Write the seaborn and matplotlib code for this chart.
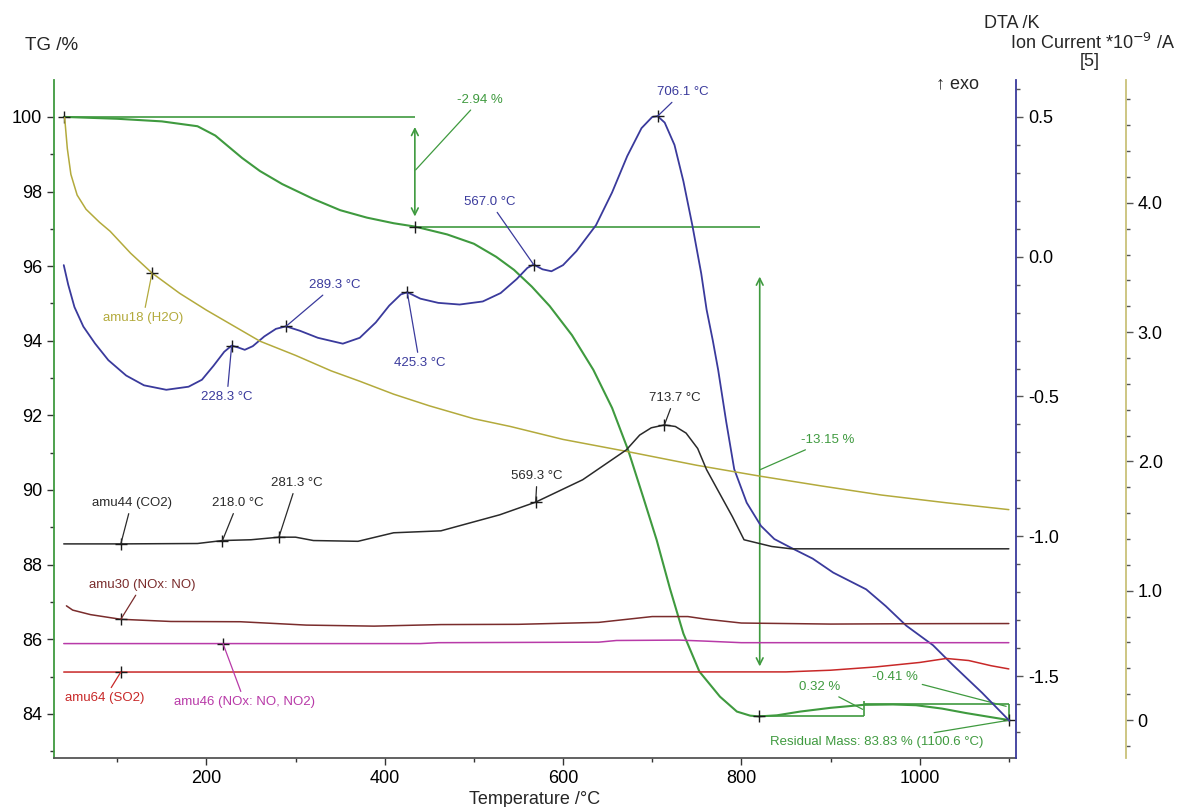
import numpy as np
import pandas as pd
import matplotlib
matplotlib.use('Agg')
import matplotlib.pyplot as plt
from matplotlib.ticker import MultipleLocator, FixedLocator, FuncFormatter
import seaborn as sns

sns.set_theme(style='white')
plt.rcParams['font.family'] = ['Liberation Sans', 'DejaVu Sans']

# colours of the instrument software
GREEN = '#3f9a3f'
NAVY = '#3a3a9c'
OLIVE = '#b3aa3c'
BLACK = '#2a2a2a'
BROWN = '#7a2c2c'
MAGENTA = '#b83aa8'
RED = '#c82828'
NOTE_FS = 9.5
TICK_FS = 13

# TG curve (mass %)
tg_T = [40, 100, 150, 190, 210, 225, 240, 260, 285, 320, 350, 380, 410, 434, 470, 500,
        525, 545, 565, 585, 610, 634, 655, 673, 690, 705, 720, 735, 753, 776, 795, 810,
        820, 840, 866, 900, 937, 970, 996, 1025, 1052, 1080, 1100.6]
tg_val = [100.0, 99.95, 99.88, 99.75, 99.5, 99.2, 98.9, 98.55, 98.2, 97.8, 97.5, 97.3,
          97.15, 97.06, 96.85, 96.6, 96.25, 95.9, 95.45, 94.93, 94.15, 93.22, 92.2, 91.07,
          89.8, 88.66, 87.35, 86.15, 85.13, 84.46, 84.06, 83.95, 83.93, 83.96, 84.06, 84.16,
          84.24, 84.25, 84.23, 84.14, 84.02, 83.91, 83.83]

# DTA curve (K)
dta_T = [40, 45, 52, 62, 75, 90, 110, 130, 155, 180, 195, 208, 220, 228.3, 236, 243, 252,
         265, 278, 289.3, 305, 325, 353, 372, 390, 405, 418, 425.3, 440, 460, 484, 510, 530,
         548, 560, 567, 577, 587, 600, 615, 637, 655, 672, 688, 700, 706.1, 714, 725, 735,
         745, 755, 761, 768, 774, 783, 792, 806, 822, 837, 855, 880, 903, 940, 962, 985,
         1015, 1037, 1070, 1100.6]
dta_val = [-0.03, -0.10, -0.18, -0.25, -0.31, -0.37, -0.425, -0.46, -0.476, -0.465, -0.44,
           -0.39, -0.34, -0.318, -0.325, -0.333, -0.32, -0.285, -0.258, -0.249, -0.265, -0.29,
           -0.311, -0.29, -0.235, -0.175, -0.135, -0.127, -0.15, -0.165, -0.171, -0.16, -0.13,
           -0.08, -0.04, -0.028, -0.045, -0.052, -0.03, 0.02, 0.113, 0.23, 0.36, 0.46, 0.50,
           0.503, 0.48, 0.40, 0.27, 0.113, -0.06, -0.189, -0.30, -0.405, -0.59, -0.76, -0.88,
           -0.963, -1.01, -1.04, -1.08, -1.13, -1.19, -1.25, -1.32, -1.39, -1.46, -1.56, -1.66]

# ion currents
h2o_T = [41, 44, 48, 55, 65, 80, 92, 115, 139, 170, 200, 230, 260, 300, 340, 372, 410, 450,
         500, 541, 600, 673, 750, 820, 890, 957, 1030, 1100]
h2o_val = [4.66, 4.42, 4.22, 4.06, 3.95, 3.85, 3.78, 3.61, 3.457, 3.30, 3.17, 3.05, 2.93,
           2.82, 2.70, 2.62, 2.52, 2.43, 2.33, 2.27, 2.17, 2.075, 1.97, 1.887, 1.81, 1.74,
           1.68, 1.627]

co2_T = [40, 104, 190, 218, 250, 281.3, 300, 320, 370, 410, 463, 529, 569.3, 622, 671, 686,
         699, 713.7, 726, 738, 751, 761, 775, 790, 803, 834, 856, 1100]
co2_val = [1.362, 1.362, 1.365, 1.388, 1.394, 1.414, 1.414, 1.388, 1.382, 1.448, 1.463, 1.587,
           1.685, 1.858, 2.089, 2.204, 2.26, 2.282, 2.27, 2.219, 2.10, 1.936, 1.76, 1.572,
           1.394, 1.342, 1.324, 1.324]

no_T = [43, 50, 70, 104, 160, 238, 312, 388, 463, 550, 640, 660, 700, 740, 760, 800, 900,
        1000, 1100]
no_val = [0.883, 0.85, 0.815, 0.779, 0.762, 0.760, 0.734, 0.726, 0.738, 0.74, 0.755, 0.77,
          0.80, 0.80, 0.78, 0.75, 0.742, 0.745, 0.746]

no2_T = [40, 218.6, 440, 460, 640, 660, 730, 760, 800, 1100]
no2_val = [0.591, 0.591, 0.591, 0.598, 0.602, 0.615, 0.618, 0.610, 0.598, 0.598]

so2_T = [40, 104, 850, 900, 950, 1000, 1030, 1055, 1080, 1100]
so2_val = [0.371, 0.371, 0.372, 0.385, 0.41, 0.445, 0.476, 0.46, 0.42, 0.395]

# peak labels: (T, value, text T, text value)
dta_peaks = [(228.3, -0.318, 223, -0.502), (289.3, -0.249, 344, -0.101),
             (425.3, -0.127, 439, -0.380), (567.0, -0.028, 518, 0.196),
             (706.1, 0.503, 734, 0.589)]
co2_peaks = [(218.0, 1.388, 235, 1.678), (281.3, 1.414, 301, 1.833),
             (569.3, 1.685, 571, 1.887), (713.7, 2.282, 725, 2.49)]

fig = plt.figure(figsize=(11.83, 8.07), dpi=100)
ax = fig.add_axes([0.0456, 0.0607, 0.8132, 0.8402])
ax_dta = ax.twinx()
ax_ion = ax.twinx()
ax_ion.spines['right'].set_position(('axes', 1.1143))

ax.set_xlim(29, 1108)
ax.set_ylim(82.815, 100.99)
ax_dta.set_ylim(-1.7934, 0.6324)
ax_ion.set_ylim(-0.294, 4.95)

# curves
df_ion = pd.concat([
    pd.DataFrame({'T': h2o_T, 'v': h2o_val, 's': 'h2o'}),
    pd.DataFrame({'T': co2_T, 'v': co2_val, 's': 'co2'}),
    pd.DataFrame({'T': no_T, 'v': no_val, 's': 'no'}),
    pd.DataFrame({'T': no2_T, 'v': no2_val, 's': 'no2'}),
    pd.DataFrame({'T': so2_T, 'v': so2_val, 's': 'so2'}),
])
sns.lineplot(data=df_ion, x='T', y='v', hue='s', estimator=None, sort=False,
             palette={'h2o': OLIVE, 'co2': BLACK, 'no': BROWN, 'no2': MAGENTA, 'so2': RED},
             lw=1.1, legend=False, ax=ax_ion)
sns.lineplot(x=dta_T, y=dta_val, color=NAVY, lw=1.3, estimator=None, sort=False, ax=ax_dta)
sns.lineplot(x=tg_T, y=tg_val, color=GREEN, lw=1.5, estimator=None, sort=False, ax=ax)

# TG evaluation
ax.hlines(100.0, 40, 433.8, color=GREEN, lw=1.2)
ax.hlines(97.06, 433.8, 820.6, color=GREEN, lw=1.2)
ax.annotate('', xy=(433.8, 97.33), xytext=(433.8, 99.73),
            arrowprops=dict(arrowstyle='<->', color=GREEN, lw=1.2, shrinkA=0, shrinkB=0))
ax.annotate('', xy=(820.6, 85.27), xytext=(820.6, 95.72),
            arrowprops=dict(arrowstyle='<->', color=GREEN, lw=1.2, shrinkA=0, shrinkB=0))
ax.hlines(83.93, 820, 937.4, color=GREEN, lw=1.2)
ax.vlines(937.4, 83.93, 84.33, color=GREEN, lw=1.2)
ax.hlines(84.25, 937.4, 1100.6, color=GREEN, lw=1.2)
ax.vlines(1100.6, 83.83, 84.25, color=GREEN, lw=1.2)

tg_notes = [('-2.94 %', 434.7, 98.58, 507, 100.46),
            ('-13.15 %', 820.7, 90.54, 897, 91.34),
            ('0.32 %', 936, 84.12, 888, 84.72),
            ('-0.41 %', 1097, 84.2, 972, 84.98),
            ('Residual Mass: 83.83 % (1100.6 °C)', 1100.6, 83.83, 952, 83.24)]
for txt, x0, y0, x1, y1 in tg_notes:
    ax.annotate(txt, xy=(x0, y0), xytext=(x1, y1), ha='center', va='center',
                color=GREEN, fontsize=NOTE_FS,
                arrowprops=dict(arrowstyle='-', color=GREEN, lw=0.9, shrinkA=1, shrinkB=0))
ax.plot([40, 433.8, 820, 1100.6], [100.0, 97.06, 83.93, 83.83], ls='none',
        marker='+', color='k', ms=9, mew=1)

for x0, y0, x1, y1 in dta_peaks:
    ax_dta.annotate(f'{x0:.1f} °C', xy=(x0, y0), xytext=(x1, y1), ha='center',
                    va='center', color=NAVY, fontsize=NOTE_FS,
                    arrowprops=dict(arrowstyle='-', color=NAVY, lw=0.9, shrinkA=1, shrinkB=0))
    ax_dta.plot(x0, y0, ls='none', marker='+', color='k', ms=9, mew=1)

for x0, y0, x1, y1 in co2_peaks:
    ax_ion.annotate(f'{x0:.1f} °C', xy=(x0, y0), xytext=(x1, y1), ha='center',
                    va='center', color=BLACK, fontsize=NOTE_FS,
                    arrowprops=dict(arrowstyle='-', color=BLACK, lw=0.9, shrinkA=1, shrinkB=0))
    ax_ion.plot(x0, y0, ls='none', marker='+', color='k', ms=9, mew=1)

ion_labels = [('amu18 (H2O)', 139, 3.457, 129, 3.109, OLIVE),
              ('amu44 (CO2)', 104, 1.362, 116, 1.678, BLACK),
              ('amu30 (NOx: NO)', 104, 0.779, 128, 1.046, BROWN),
              ('amu46 (NOx: NO, NO2)', 218.6, 0.591, 243, 0.139, MAGENTA),
              ('amu64 (SO2)', 104, 0.371, 86, 0.170, RED)]
for txt, x0, y0, x1, y1, c in ion_labels:
    ax_ion.annotate(txt, xy=(x0, y0), xytext=(x1, y1), ha='center', va='center',
                    color=c, fontsize=NOTE_FS,
                    arrowprops=dict(arrowstyle='-', color=c, lw=0.9, shrinkA=1, shrinkB=0))
    ax_ion.plot(x0, y0, ls='none', marker='+', color='k', ms=9, mew=1)

# axes styling
for a in (ax, ax_dta, ax_ion):
    a.set_xlabel('')
    a.set_ylabel('')
    a.patch.set_visible(False)
    for s in ('top', 'left', 'right', 'bottom'):
        a.spines[s].set_visible(False)

ax.spines['left'].set_visible(True)
ax.spines['left'].set_color(GREEN)
ax.spines['bottom'].set_visible(True)
ax.spines['bottom'].set_color('#555555')
ax_dta.spines['right'].set_visible(True)
ax_dta.spines['right'].set_color(NAVY)
ax_ion.spines['right'].set_visible(True)
ax_ion.spines['right'].set_color('#c9c27a')
for a in (ax, ax_dta, ax_ion):
    for s in a.spines.values():
        s.set_linewidth(1.3)

ax.xaxis.set_major_locator(FixedLocator([200, 400, 600, 800, 1000]))
ax.xaxis.set_minor_locator(FixedLocator([100, 300, 500, 700, 900, 1100]))
ax.yaxis.set_major_locator(MultipleLocator(2))
ax.yaxis.set_minor_locator(FixedLocator(list(range(83, 102, 2))))
ax_dta.yaxis.set_major_locator(MultipleLocator(0.5))
ax_dta.yaxis.set_minor_locator(MultipleLocator(0.1))
ax_dta.yaxis.set_major_formatter(FuncFormatter(lambda v, p: f'{v:.1f}'))
ax_ion.yaxis.set_major_locator(MultipleLocator(1.0))
ax_ion.yaxis.set_minor_locator(MultipleLocator(0.2))
ax_ion.yaxis.set_major_formatter(FuncFormatter(lambda v, p: '0' if abs(v) < 1e-9 else f'{v:.1f}'))

ax.tick_params(axis='both', which='both', direction='out', labelsize=TICK_FS, colors='#333333',
               labelcolor='black', bottom=True, left=True)
ax.tick_params(which='major', length=5, width=1)
ax.tick_params(which='minor', length=3, width=1)
for a in (ax_dta, ax_ion):
    a.tick_params(axis='y', which='both', direction='out', right=True, labelsize=TICK_FS,
                  colors='#555555', labelcolor='black')
    a.tick_params(which='major', length=5, width=1)
    a.tick_params(which='minor', length=3, width=1)

ax.set_xlabel('Temperature /°C', fontsize=TICK_FS, labelpad=3)
fig.text(25 / 1183, 1 - 45 / 807, 'TG /%', fontsize=13.5, ha='left', va='center')
fig.text(1012 / 1183, 1 - 23 / 807, 'DTA /K', fontsize=TICK_FS, ha='center', va='center')
fig.text(1175 / 1183, 1 - 43 / 807, r'Ion Current *10$^{-9}$ /A', fontsize=TICK_FS,
         ha='right', va='center')
fig.text(1090 / 1183, 1 - 62 / 807, '[5]', fontsize=TICK_FS, ha='center', va='center')
fig.text(957 / 1183, 1 - 84 / 807, '↑ exo', fontsize=TICK_FS, ha='center', va='center')

fig.savefig('out.png', dpi=100, facecolor='white')
